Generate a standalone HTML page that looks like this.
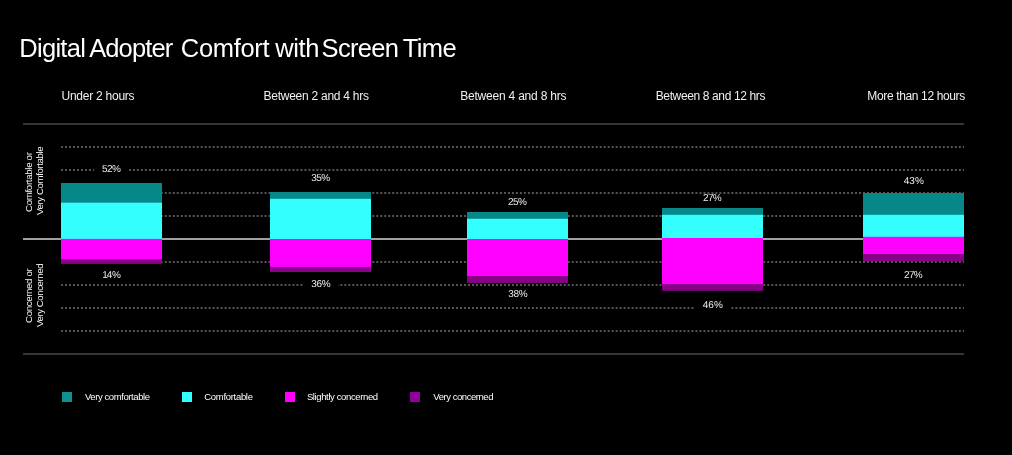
<!DOCTYPE html>
<html lang="en"><head><meta charset="utf-8"><title>Digital Adopter Comfort with Screen Time</title>
<style>
html,body{margin:0;padding:0;background:#000;}
body{width:1012px;height:455px;position:relative;overflow:hidden;font-family:"Liberation Sans",sans-serif;color:#fff;}
.a{position:absolute;white-space:nowrap;line-height:1;}
.tt{color:#fff;}
.h{color:#f0f0f0;}
.lg{color:#fff;}
.pl{color:#ececec;text-rendering:geometricPrecision;}
.yl{color:#f6f6f6;transform-origin:0 0;transform:rotate(-90deg);}
.bg{position:absolute;background:#000;}
.sw{position:absolute;top:392px;width:10px;height:10px;}
h1{margin:0;font-weight:normal;font-size:25.5px;}
</style></head><body>
<svg class="gfx" width="1012" height="455" viewBox="0 0 1012 455" style="position:absolute;left:0;top:0">
<rect x="23" y="123" width="941" height="2" fill="#353535"/>
<rect x="23" y="353" width="941" height="2" fill="#353535"/>
<line x1="61.05" x2="964" y1="147" y2="147" stroke="#555" stroke-width="2" stroke-dasharray="2 1.99"/>
<line x1="61.05" x2="964" y1="170" y2="170" stroke="#555" stroke-width="2" stroke-dasharray="2 1.99"/>
<line x1="61.05" x2="964" y1="193" y2="193" stroke="#555" stroke-width="2" stroke-dasharray="2 1.99"/>
<line x1="61.05" x2="964" y1="216" y2="216" stroke="#555" stroke-width="2" stroke-dasharray="2 1.99"/>
<line x1="61.05" x2="964" y1="262" y2="262" stroke="#555" stroke-width="2" stroke-dasharray="2 1.99"/>
<line x1="61.05" x2="964" y1="285" y2="285" stroke="#555" stroke-width="2" stroke-dasharray="2 1.99"/>
<line x1="61.05" x2="964" y1="308" y2="308" stroke="#555" stroke-width="2" stroke-dasharray="2 1.99"/>
<line x1="61.05" x2="964" y1="331" y2="331" stroke="#555" stroke-width="2" stroke-dasharray="2 1.99"/>
<rect x="23" y="238" width="941" height="2" fill="#a0a0a0"/>
<rect x="61" width="101" y="183" height="20.0" fill="#068888"/><rect x="61" width="101" y="202.7" height="36.3" fill="#33ffff"/><rect x="61" width="101" y="238.9" height="21.1" fill="#ff00ff"/><rect x="61" width="101" y="259.2" height="4.7" fill="#890089"/>
<rect x="270" width="101" y="192" height="7.0" fill="#068888"/><rect x="270" width="101" y="198.8" height="41.2" fill="#33ffff"/><rect x="270" width="101" y="239" height="28.0" fill="#ff00ff"/><rect x="270" width="101" y="266.9" height="5.1" fill="#890089"/>
<rect x="467" width="101" y="212" height="7.0" fill="#068888"/><rect x="467" width="101" y="218.75" height="21.2" fill="#33ffff"/><rect x="467" width="101" y="239" height="38.0" fill="#ff00ff"/><rect x="467" width="101" y="276" height="6.9" fill="#890089"/>
<rect x="662" width="101" y="208" height="7.0" fill="#068888"/><rect x="662" width="101" y="214.8" height="24.2" fill="#33ffff"/><rect x="662" width="101" y="238" height="47.0" fill="#ff00ff"/><rect x="662" width="101" y="284" height="6.8" fill="#890089"/>
<rect x="863" width="101" y="193" height="22.0" fill="#068888"/><rect x="863" width="101" y="214.8" height="22.2" fill="#33ffff"/><rect x="863" width="101" y="236.8" height="18.2" fill="#ff00ff"/><rect x="863" width="101" y="254" height="7.3" fill="#890089"/>
</svg>
<div class="sw" style="left:62px;background:#0f9090"></div>
<div class="sw" style="left:182px;background:#33ffff"></div>
<div class="sw" style="left:285px;background:#ff00ff"></div>
<div class="sw" style="left:410px;background:#90009a"></div>
<div class="bg" style="left:94.0px;width:35px;top:164.5px;height:9px"></div>
<div class="bg" style="left:94.4px;width:35px;top:270.5px;height:9px"></div>
<div class="bg" style="left:303.1px;width:35px;top:173.5px;height:9px"></div>
<div class="bg" style="left:303.3px;width:35px;top:279.5px;height:9px"></div>
<div class="bg" style="left:500.1px;width:35px;top:197.5px;height:9px"></div>
<div class="bg" style="left:500.4px;width:35px;top:289.5px;height:9px"></div>
<div class="bg" style="left:695.0px;width:35px;top:193.5px;height:9px"></div>
<div class="bg" style="left:695.0px;width:35px;top:300.5px;height:9px"></div>
<div class="bg" style="left:896.0px;width:35px;top:176.5px;height:9px"></div>
<div class="bg" style="left:896.0px;width:35px;top:270.5px;height:9px"></div>
<h1>
<span id="t_digital" class="a tt" style="left:19.26px;top:36.35px;font-size:25.5px;letter-spacing:-0.706px">Digital</span> 
<span id="t_adopter" class="a tt" style="left:89.17px;top:36.35px;font-size:25.5px;letter-spacing:-0.880px">Adopter</span> 
<span id="t_comfort" class="a tt" style="left:180.81px;top:36.35px;font-size:25.5px;letter-spacing:-0.317px">Comfort</span> 
<span id="t_with" class="a tt" style="left:275.21px;top:36.35px;font-size:25.5px;letter-spacing:-0.413px">with</span> 
<span id="t_screen" class="a tt" style="left:321.61px;top:36.35px;font-size:25.5px;letter-spacing:-0.679px">Screen</span> 
<span id="t_time" class="a tt" style="left:402.84px;top:36.35px;font-size:25.5px;letter-spacing:-0.661px">Time</span> 
</h1>
<div id="h1" class="a h" style="left:61.54px;top:90.06px;font-size:12px;letter-spacing:-0.250px">Under 2 hours</div> 
<div id="h2" class="a h" style="left:263.52px;top:90.06px;font-size:12px;letter-spacing:-0.254px">Between 2 and 4 hrs</div> 
<div id="h3" class="a h" style="left:460.26px;top:90.06px;font-size:12px;letter-spacing:-0.213px">Between 4 and 8 hrs</div> 
<div id="h4" class="a h" style="left:655.71px;top:90.06px;font-size:12px;letter-spacing:-0.372px">Between 8 and 12 hrs</div> 
<div id="h5" class="a h" style="left:867.34px;top:90.06px;font-size:12px;letter-spacing:-0.361px">More than 12 hours</div> 
<div id="l1" class="a lg" style="left:84.89px;top:392.17px;font-size:9.5px;letter-spacing:-0.406px">Very comfortable</div> 
<div id="l2" class="a lg" style="left:204.25px;top:392.17px;font-size:9.5px;letter-spacing:-0.304px">Comfortable</div> 
<div id="l3" class="a lg" style="left:306.89px;top:392.17px;font-size:9.5px;letter-spacing:-0.377px">Slightly concerned</div> 
<div id="l4" class="a lg" style="left:433.32px;top:392.17px;font-size:9.5px;letter-spacing:-0.449px">Very concerned</div> 
<div id="p1" class="a pl" style="left:102.01px;top:165.00px;font-size:10px;letter-spacing:-0.606px">52%</div> 
<div id="p2" class="a pl" style="left:102.20px;top:271.00px;font-size:10px;letter-spacing:-0.500px"><span style="letter-spacing:-0.9px">1</span>4%</div> 
<div id="p3" class="a pl" style="left:311.13px;top:174.00px;font-size:10px;letter-spacing:-0.511px">35%</div> 
<div id="p4" class="a pl" style="left:311.15px;top:280.00px;font-size:10px;letter-spacing:-0.305px">36%</div> 
<div id="p5" class="a pl" style="left:508.03px;top:198.00px;font-size:10px;letter-spacing:-0.627px">25%</div> 
<div id="p6" class="a pl" style="left:508.13px;top:290.00px;font-size:10px;letter-spacing:-0.215px">38%</div> 
<div id="p7" class="a pl" style="left:703.03px;top:194.00px;font-size:10px;letter-spacing:-0.661px">27%</div> 
<div id="p8" class="a pl" style="left:702.79px;top:301.00px;font-size:10px;letter-spacing:-0.010px">46%</div> 
<div id="p9" class="a pl" style="left:903.79px;top:177.00px;font-size:10px;letter-spacing:-0.010px">43%</div> 
<div id="p10" class="a pl" style="left:904.03px;top:271.00px;font-size:10px;letter-spacing:-0.661px">27%</div> 
<div id="y1" class="a yl" style="left:24.10px;top:211.60px;font-size:9.7px;letter-spacing:-0.322px">Comfortable or</div>
<div id="y2" class="a yl" style="left:35.00px;top:215.01px;font-size:9.7px;letter-spacing:-0.410px">Very Comfortable</div>
<div id="y3" class="a yl" style="left:24.10px;top:323.47px;font-size:9.7px;letter-spacing:-0.361px">Concerned or</div>
<div id="y4" class="a yl" style="left:35.00px;top:326.91px;font-size:9.7px;letter-spacing:-0.458px">Very Concerned</div>
</body></html>
